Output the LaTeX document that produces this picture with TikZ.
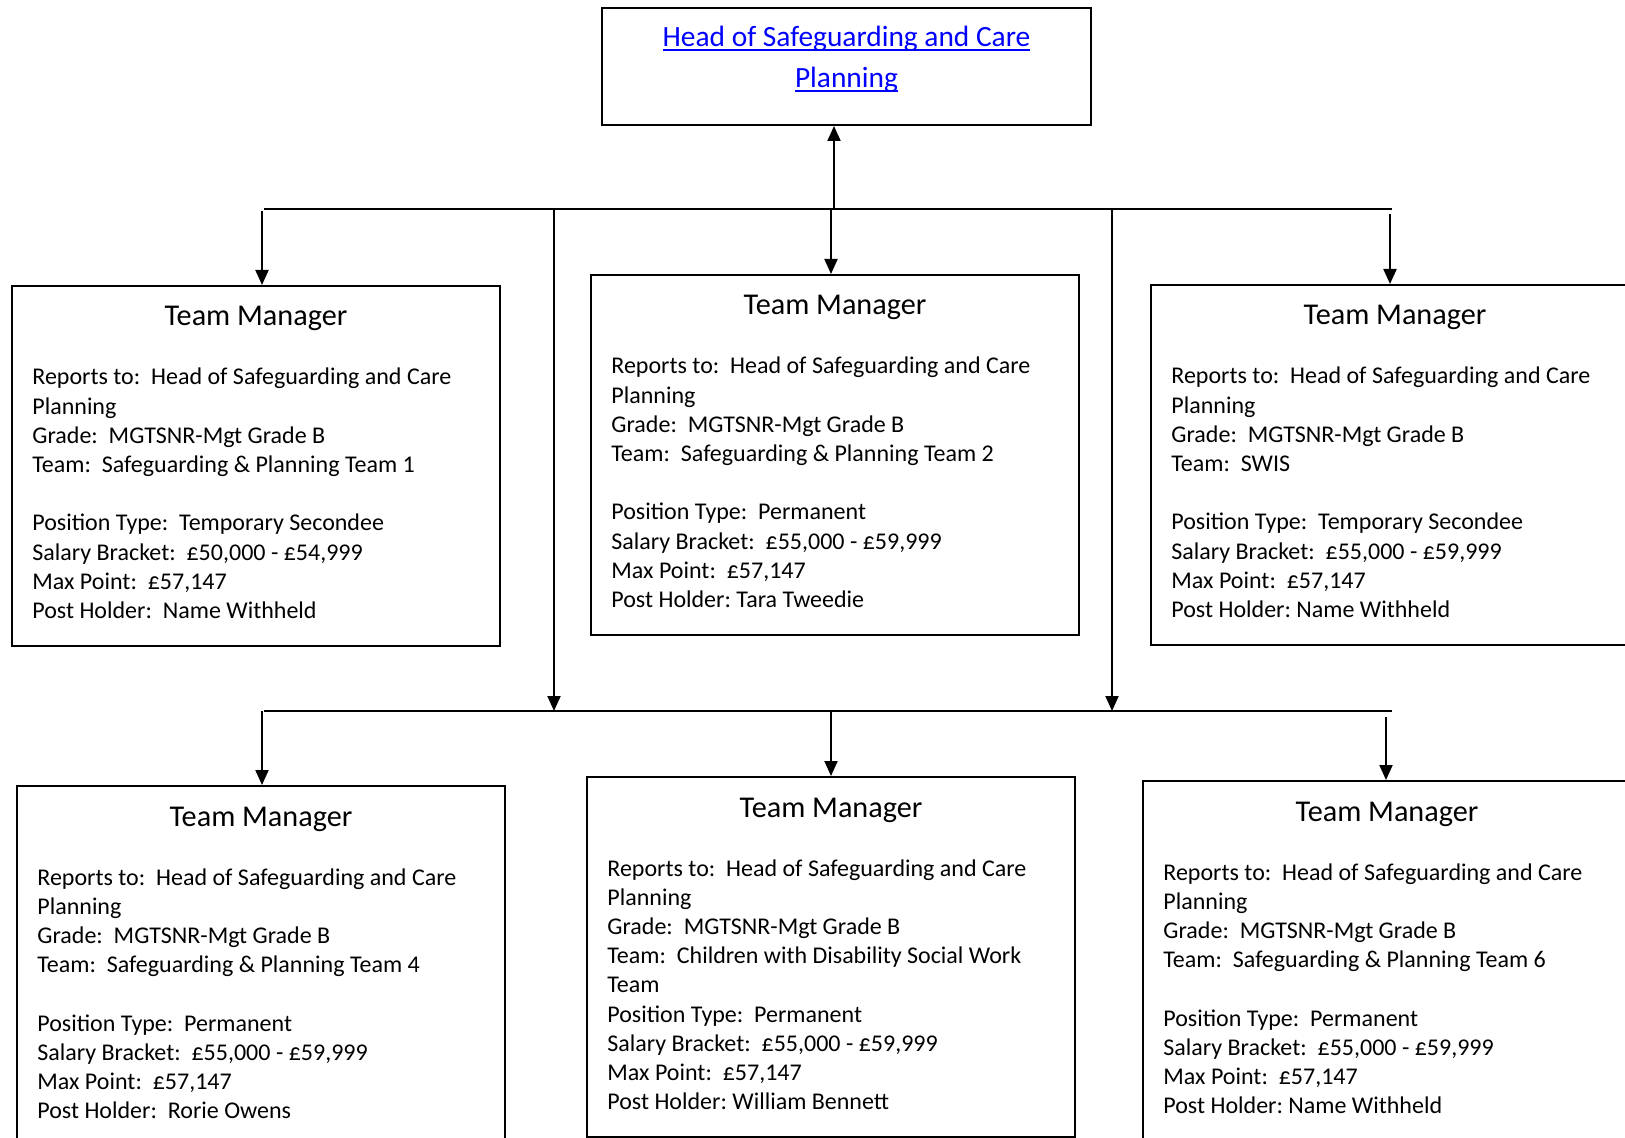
\documentclass[tikz,border=0pt]{standalone}
\usepackage{fontspec}
\setmainfont{Carlito}
\usetikzlibrary{arrows.meta}

\tikzset{
	postbox/.style={draw, line width=1pt, anchor=north west, minimum width=244pt, minimum height=180pt, inner sep=0pt},
	posttitle/.style={anchor=base, inner sep=0pt, font=\fontsize{15.1}{18}\selectfont},
	postbody/.style={anchor=base west, align=flush left, text width=240pt, inner sep=0pt, font=\fontsize{12}{14.6}\selectfont},
	headbox/.style={draw, line width=1pt, anchor=north west, minimum width=244.5pt, minimum height=58.5pt, inner sep=0pt},
	headtext/.style={anchor=north, align=center, inner sep=0pt, text=blue, font=\fontsize{14.7}{20.5}\selectfont},
	bar/.style={line width=1pt},
	link/.style={line width=1pt, -{Triangle[length=7.5pt, width=6.5pt]}}
}

\newcommand{\linkline}[1]{\setbox0\hbox{#1}\rlap{\rule[-1.9pt]{\wd0}{1pt}}\box0}
\newcommand{\reportsto}{Reports to:~ Head of Safeguarding and Care\\ Planning\\ Grade:~ MGTSNR-Mgt Grade B}
\newcommand{\post}[4]{
	\node[postbox] (#1) at (#2,#3) {};
	\node[posttitle] (#1 title) at ([shift={(0,41)}]#1.north) {Team Manager};
	\node[postbody] (#1 body) at ([shift={(21,100)}]#1.north west) {#4};
}

\begin{document}
\frenchspacing
\begin{tikzpicture}[x=0.5pt, y=-0.5pt]
	\clip (0,0) rectangle (1625,1138);

	% head of service
	\node[headbox] (head) at (601,7) {};
	\node[headtext] (head text) at ([shift={(0,19)}]head.north) {\linkline{Head of Safeguarding and Care}\\ \linkline{Planning}};

	% first row
	\post{tm1}{11}{285}{\reportsto\\ Team:~ Safeguarding \& Planning Team 1\\[14.6pt]
		Position Type:~ Temporary Secondee\\ Salary Bracket:~ £50,000 - £54,999\\ Max Point:~ £57,147\\ Post Holder:~ Name Withheld}
	\post{tm2}{590}{274}{\reportsto\\ Team:~ Safeguarding \& Planning Team 2\\[14.6pt]
		Position Type:~ Permanent\\ Salary Bracket:~ £55,000 - £59,999\\ Max Point:~ £57,147\\ Post Holder: Tara Tweedie}
	\post{tm3}{1150}{284}{\reportsto\\ Team:~ SWIS\\[14.6pt]
		Position Type:~ Temporary Secondee\\ Salary Bracket:~ £55,000 - £59,999\\ Max Point:~ £57,147\\ Post Holder: Name Withheld}

	% second row
	\post{tm4}{16}{785}{\reportsto\\ Team:~ Safeguarding \& Planning Team 4\\[14.6pt]
		Position Type:~ Permanent\\ Salary Bracket:~ £55,000 - £59,999\\ Max Point:~ £57,147\\ Post Holder:~ Rorie Owens}
	\post{tm5}{586}{776}{\reportsto\\ Team:~ Children with Disability Social Work\\ Team\\
		Position Type:~ Permanent\\ Salary Bracket:~ £55,000 - £59,999\\ Max Point:~ £57,147\\ Post Holder: William Bennett}
	\post{tm6}{1142}{780}{\reportsto\\ Team:~ Safeguarding \& Planning Team 6\\[14.6pt]
		Position Type:~ Permanent\\ Salary Bracket:~ £55,000 - £59,999\\ Max Point:~ £57,147\\ Post Holder: Name Withheld}

	% top bar
	\coordinate (topL) at (264,209);
	\coordinate (topR) at (1392,209);
	\coordinate (hub) at (834,209);
	\draw[bar] (topL) -- (topR);
	\draw[link] (hub) -- (hub |- head.south);

	\coordinate (d1) at (262,211);
	\coordinate (d2) at (831,209);
	\coordinate (d3) at (1390,214);
	\draw[link] (d1) -- (d1 |- tm1.north);
	\draw[link] (d2) -- (d2 |- tm2.north);
	\draw[link] (d3) -- (d3 |- tm3.north);

	% bottom bar
	\coordinate (botL) at (264,711);
	\coordinate (botR) at (1392,711);
	\draw[bar] (botL) -- (botR);

	\coordinate (v1) at (554,209);
	\coordinate (v2) at (1112,209);
	\draw[link] (v1) -- (v1 |- botL);
	\draw[link] (v2) -- (v2 |- botL);

	\coordinate (e1) at (262,711);
	\coordinate (e2) at (831,711);
	\coordinate (e3) at (1386,717);
	\draw[link] (e1) -- (e1 |- tm4.north);
	\draw[link] (e2) -- (e2 |- tm5.north);
	\draw[link] (e3) -- (e3 |- tm6.north);
\end{tikzpicture}
\end{document}
